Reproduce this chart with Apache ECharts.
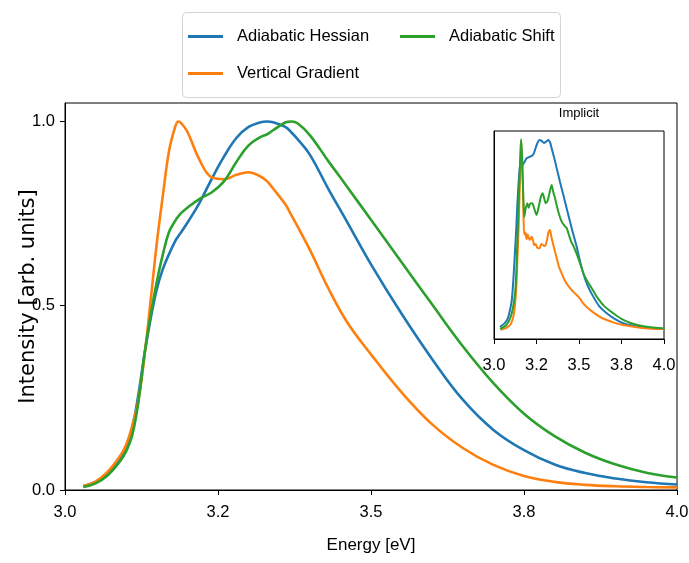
<!DOCTYPE html>
<html><head><meta charset="utf-8">
<script src="https://cdn.jsdelivr.net/npm/echarts@6/dist/echarts.min.js"></script>
<style>html,body{margin:0;padding:0;background:#fff}#c{width:689px;height:563px}</style>
</head><body><div id="c"></div>
<script>
// ---- main panel data ----
const energy = [3.03, 3.05, 3.07, 3.09, 3.10, 3.11, 3.12, 3.13, 3.14, 3.15, 3.16, 3.17, 3.18, 3.185, 3.19, 3.20, 3.22, 3.24, 3.26, 3.28, 3.30, 3.32, 3.33, 3.34, 3.36, 3.37, 3.38, 3.40, 3.43, 3.46, 3.50, 3.55, 3.60, 3.65, 3.70, 3.75, 3.80, 3.85, 3.90, 3.95, 4.00];
const adiabaticHessian = [0.011, 0.022, 0.045, 0.085, 0.115, 0.17, 0.26, 0.37, 0.465, 0.545, 0.60, 0.64, 0.675, 0.688, 0.70, 0.725, 0.78, 0.845, 0.905, 0.955, 0.985, 0.998, 1.0, 0.998, 0.985, 0.97, 0.952, 0.91, 0.818, 0.73, 0.612, 0.478, 0.355, 0.245, 0.163, 0.108, 0.069, 0.046, 0.031, 0.021, 0.015];
const verticalGradient = [0.011, 0.023, 0.05, 0.092, 0.123, 0.175, 0.245, 0.365, 0.515, 0.67, 0.80, 0.92, 0.985, 1.0, 0.995, 0.972, 0.895, 0.848, 0.843, 0.855, 0.862, 0.85, 0.838, 0.818, 0.775, 0.745, 0.715, 0.652, 0.548, 0.458, 0.368, 0.265, 0.178, 0.114, 0.068, 0.038, 0.022, 0.014, 0.010, 0.008, 0.007];
const adiabaticShift = [0.008, 0.018, 0.04, 0.078, 0.105, 0.15, 0.24, 0.37, 0.475, 0.565, 0.64, 0.70, 0.73, 0.742, 0.752, 0.766, 0.79, 0.808, 0.838, 0.89, 0.935, 0.958, 0.965, 0.976, 0.997, 1.0, 0.995, 0.963, 0.893, 0.825, 0.733, 0.618, 0.503, 0.39, 0.29, 0.207, 0.146, 0.101, 0.069, 0.047, 0.034];

// ---- inset ("Implicit") data ----
const insetHessianE = [3.035, 3.06, 3.08, 3.095, 3.105, 3.115, 3.124, 3.131, 3.137, 3.144, 3.152, 3.158, 3.166, 3.18, 3.192, 3.21, 3.231, 3.251, 3.267, 3.28, 3.294, 3.307, 3.319, 3.33, 3.339, 3.354, 3.369, 3.388, 3.408, 3.432, 3.457, 3.486, 3.505, 3.525, 3.55, 3.584, 3.62, 3.663, 3.71, 3.761, 3.83, 3.898, 3.95, 4.0];
const insetHessianI = [0.019, 0.035, 0.06, 0.11, 0.16, 0.28, 0.42, 0.53, 0.65, 0.76, 0.85, 0.87, 0.86, 0.88, 0.898, 0.905, 0.918, 0.967, 0.993, 0.988, 0.978, 0.985, 0.993, 0.98, 0.95, 0.9, 0.845, 0.775, 0.706, 0.62, 0.533, 0.437, 0.365, 0.298, 0.235, 0.176, 0.125, 0.089, 0.06, 0.037, 0.022, 0.014, 0.01, 0.007];
const insetVerticalE = [3.04, 3.07, 3.10, 3.118, 3.131, 3.138, 3.145, 3.15, 3.155, 3.161, 3.165, 3.169, 3.173, 3.178, 3.185, 3.192, 3.198, 3.204, 3.21, 3.216, 3.222, 3.229, 3.237, 3.245, 3.255, 3.267, 3.278, 3.288, 3.3, 3.31, 3.32, 3.329, 3.337, 3.349, 3.369, 3.383, 3.398, 3.42, 3.447, 3.47, 3.496, 3.51, 3.525, 3.55, 3.584, 3.62, 3.663, 3.71, 3.761, 3.86, 3.93, 4.0];
const insetVerticalI = [0.003, 0.012, 0.035, 0.09, 0.22, 0.38, 0.54, 0.7, 0.85, 0.98, 0.9, 0.77, 0.62, 0.5, 0.51, 0.475, 0.5, 0.485, 0.472, 0.48, 0.489, 0.47, 0.445, 0.45, 0.43, 0.428, 0.45, 0.445, 0.44, 0.465, 0.51, 0.524, 0.49, 0.445, 0.376, 0.33, 0.298, 0.255, 0.22, 0.198, 0.176, 0.16, 0.141, 0.118, 0.094, 0.072, 0.054, 0.039, 0.028, 0.014, 0.009, 0.007];
const insetShiftE = [3.035, 3.07, 3.094, 3.11, 3.124, 3.131, 3.137, 3.143, 3.149, 3.155, 3.159, 3.164, 3.169, 3.174, 3.178, 3.185, 3.196, 3.204, 3.212, 3.225, 3.235, 3.25, 3.262, 3.274, 3.286, 3.295, 3.304, 3.315, 3.325, 3.339, 3.349, 3.359, 3.378, 3.398, 3.415, 3.428, 3.44, 3.455, 3.467, 3.486, 3.506, 3.525, 3.545, 3.575, 3.604, 3.65, 3.702, 3.75, 3.8, 3.85, 3.898, 3.95, 4.0];
const insetShiftI = [0.008, 0.025, 0.06, 0.11, 0.194, 0.3, 0.454, 0.62, 0.767, 0.92, 0.997, 0.93, 0.8, 0.66, 0.593, 0.63, 0.663, 0.64, 0.66, 0.663, 0.64, 0.602, 0.64, 0.69, 0.715, 0.69, 0.663, 0.675, 0.71, 0.758, 0.72, 0.689, 0.62, 0.567, 0.545, 0.533, 0.5, 0.46, 0.44, 0.4, 0.35, 0.3, 0.263, 0.22, 0.176, 0.125, 0.089, 0.06, 0.04, 0.027, 0.019, 0.014, 0.011];

// ---- ticks ----
const xTickValues = [3.0, 3.25, 3.5, 3.75, 4.0];
const xTickLabels = ['3.0', '3.2', '3.5', '3.8', '4.0'];
const yTickValues = [0.0, 0.5, 1.0];
const yTickLabels = ['0.0', '0.5', '1.0'];

const seriesNames = ['Adiabatic Hessian', 'Vertical Gradient', 'Adiabatic Shift'];
const colors = ['#1f77b4', '#ff7f0e', '#2ca02c'];

const narrow = '"Liberation Sans", Arial, sans-serif';
const wide = '"DejaVu Sans", sans-serif';
const FS = 16.5;

const pairs = (xs, ys) => xs.map((x, i) => [x, ys[i]]);
const xLabelFmt = v => { const i = xTickValues.findIndex(t => Math.abs(t - v) < 1e-6); return i >= 0 ? xTickLabels[i] : ''; };
const yLabelFmt = v => { const i = yTickValues.findIndex(t => Math.abs(t - v) < 1e-6); return i >= 0 ? yTickLabels[i] : ''; };

const chart = echarts.init(document.getElementById('c'), null, {renderer: 'canvas'});

function legendItem(name, left, top) {
  return {
    data: [name], left: left, top: top, orient: 'horizontal', padding: 0,
    icon: 'rect', itemWidth: 35, itemHeight: 3, itemGap: 0,
    textStyle: {fontFamily: narrow, fontSize: FS, color: '#000', padding: [0, 0, 0, 9]},
    selectedMode: false
  };
}

const mainData = [adiabaticHessian, verticalGradient, adiabaticShift];
const insetData = [pairs(insetHessianE, insetHessianI), pairs(insetVerticalE, insetVerticalI), pairs(insetShiftE, insetShiftI)];

const series = [];
seriesNames.forEach((n, k) => {
  series.push({
    name: n, type: 'line', xAxisIndex: 0, yAxisIndex: 0,
    data: pairs(energy, mainData[k]), showSymbol: false, symbol: 'none',
    smooth: 0.4,
    lineStyle: {color: colors[k], width: 2.6}, itemStyle: {color: colors[k]},
    z: 2 + k, animation: false
  });
});
seriesNames.forEach((n, k) => {
  series.push({
    name: n, type: 'line', xAxisIndex: 1, yAxisIndex: 1,
    data: insetData[k], showSymbol: false, symbol: 'none',
    smooth: 0.25,
    lineStyle: {color: colors[k], width: 2}, itemStyle: {color: colors[k]},
    z: 10 + k, animation: false
  });
});

const option = {
  animation: false,
  backgroundColor: '#fff',
  color: colors,
  graphic: [
    {type: 'rect', left: 182, top: 12, shape: {width: 378, height: 85, r: 4},
     style: {fill: '#fff', stroke: '#d4d4d4', lineWidth: 1}, z: 0},
    {type: 'text', x: 579, y: 113, style: {text: 'Implicit', fill: '#000', font: '13px ' + narrow, textAlign: 'center', textVerticalAlign: 'middle'}, z: 20}
  ],
  legend: [
    legendItem('Adiabatic Hessian', 188, 28),
    legendItem('Adiabatic Shift', 400, 28),
    legendItem('Vertical Gradient', 188, 65)
  ],
  grid: [
    {left: 65, right: 12, top: 103, bottom: 73, show: true, borderColor: '#000', borderWidth: 1, backgroundColor: 'transparent', containLabel: false, outerBoundsMode: 'none'},
    {left: 494, width: 170, top: 131, height: 208, show: true, borderColor: '#000', borderWidth: 1, backgroundColor: '#fff', containLabel: false, outerBoundsMode: 'none', z: 8}
  ],
  xAxis: [
    {type: 'value', gridIndex: 0, min: 3.0, max: 4.0, interval: 0.25,
     name: 'Energy [eV]', nameLocation: 'middle', nameGap: 47, nameMoveOverlap: false,
     nameTextStyle: {fontFamily: narrow, fontSize: FS + 0.5, color: '#000'},
     axisLine: {show: true, onZero: false, lineStyle: {color: '#000', width: 1}},
     axisTick: {show: true, inside: false, length: 5, customValues: xTickValues, lineStyle: {color: '#000'}},
     axisLabel: {show: true, margin: 14, customValues: xTickValues, formatter: xLabelFmt, fontFamily: narrow, fontSize: FS, color: '#000'},
     splitLine: {show: false}},
    {type: 'value', gridIndex: 1, min: 3.0, max: 4.0, interval: 0.25, z: 9,
     axisLine: {show: true, onZero: false, lineStyle: {color: '#000', width: 1}},
     axisTick: {show: true, inside: false, length: 5, customValues: xTickValues, lineStyle: {color: '#000'}},
     axisLabel: {show: true, margin: 18, customValues: xTickValues, formatter: xLabelFmt, fontFamily: narrow, fontSize: FS, color: '#000'},
     splitLine: {show: false}}
  ],
  yAxis: [
    {type: 'value', gridIndex: 0, min: 0, max: 1.05, interval: 0.5,
     name: 'Intensity [arb. units]', nameLocation: 'middle', nameGap: 26, nameRotate: 90, nameMoveOverlap: false,
     nameTextStyle: {fontFamily: wide, fontSize: 21, color: '#000'},
     axisLine: {show: true, onZero: false, lineStyle: {color: '#000', width: 1}},
     axisTick: {show: true, inside: false, length: 5, customValues: yTickValues, lineStyle: {color: '#000'}},
     axisLabel: {show: true, margin: 10, customValues: yTickValues, formatter: yLabelFmt, fontFamily: narrow, fontSize: FS, color: '#000'},
     splitLine: {show: false}},
    {type: 'value', gridIndex: 1, min: -0.045, max: 1.04, z: 9,
     axisLine: {show: true, onZero: false, lineStyle: {color: '#000', width: 1}},
     axisTick: {show: false}, axisLabel: {show: false}, splitLine: {show: false}}
  ],
  series: series
};
chart.setOption(option);
</script>
</body></html>
